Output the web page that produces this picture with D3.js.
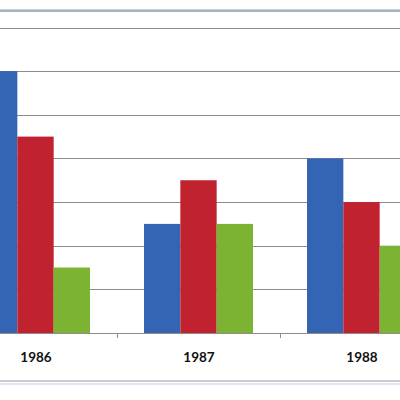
<!DOCTYPE html>
<html>
<head>
<meta charset="utf-8">
<script src="https://cdn.jsdelivr.net/npm/d3@7"></script>
<style>
  body { margin: 0; background: #fff; }
  svg { display: block; }
</style>
</head>
<body>
<script>
// chart data
var years = ["1986", "1987", "1988"];
var series = ["A", "B", "C"];
var valuesA = [60, 25, 40];
var valuesB = [45, 35, 30];
var valuesC = [15, 25, 20];
var gridTicks = [10, 20, 30, 40, 50, 60, 70];

var colors = ["#3465b5", "#c0232f", "#7db333"];
var allValues = [valuesA, valuesB, valuesC];

var width = 400;
var height = 400;

var svg = d3.select("body")
  .append("svg")
  .attr("width", width)
  .attr("height", height);

// frame lines (top and bottom of the chart box)
svg.append("line").attr("x1", 0).attr("x2", width).attr("y1", 9.5).attr("y2", 9.5)
  .attr("stroke", "#bcd3e8").attr("stroke-width", 1);
svg.append("line").attr("x1", 0).attr("x2", width).attr("y1", 11).attr("y2", 11)
  .attr("stroke", "#8f9aa3").attr("stroke-width", 1.5);
svg.append("line").attr("x1", 0).attr("x2", width).attr("y1", 381).attr("y2", 381)
  .attr("stroke", "#9a9a9a").attr("stroke-width", 1);
svg.append("line").attr("x1", 0).attr("x2", width).attr("y1", 384).attr("y2", 384)
  .attr("stroke", "#b9d2ea").attr("stroke-width", 1);

var x = d3.scaleBand()
  .domain(years)
  .range([-46, 443])
  .padding(0);

var xSub = d3.scaleBand()
  .domain(series)
  .range([27, 136])
  .padding(0);

var y = d3.scaleLinear()
  .domain([0, 70])
  .range([333, 27.5]);

// gridlines
svg.append("g")
  .selectAll("line")
  .data(gridTicks)
  .enter()
  .append("line")
  .attr("x1", 0)
  .attr("x2", width)
  .attr("y1", function(d) { return Math.round(y(d)) + 0.5; })
  .attr("y2", function(d) { return Math.round(y(d)) + 0.5; })
  .attr("stroke", "#8c8c8c")
  .attr("stroke-width", 1);

// bars
var groups = svg.append("g")
  .selectAll("g")
  .data(years)
  .enter()
  .append("g")
  .attr("transform", function(d) { return "translate(" + x(d) + ",0)"; });

groups.selectAll("rect")
  .data(function(d, i) {
    return series.map(function(s, j) { return { s: s, v: allValues[j][i], c: colors[j] }; });
  })
  .enter()
  .append("rect")
  .attr("x", function(d) { return xSub(d.s); })
  .attr("width", xSub.bandwidth())
  .attr("y", function(d) { return y(d.v); })
  .attr("height", function(d) { return y(0) - y(d.v); })
  .attr("fill", function(d) { return d.c; });

// x axis baseline
svg.append("line")
  .attr("x1", 0).attr("x2", width)
  .attr("y1", Math.round(y(0)) + 0.5).attr("y2", Math.round(y(0)) + 0.5)
  .attr("stroke", "#8c8c8c");

// tick marks between categories
svg.append("g")
  .selectAll("line")
  .data(years.slice(1))
  .enter()
  .append("line")
  .attr("x1", function(d) { return Math.round(x(d)) + 0.5; })
  .attr("x2", function(d) { return Math.round(x(d)) + 0.5; })
  .attr("y1", y(0))
  .attr("y2", y(0) + 5)
  .attr("stroke", "#8c8c8c");

// category labels
svg.append("g")
  .selectAll("text")
  .data(years)
  .enter()
  .append("text")
  .attr("x", function(d) { return x(d) + x.bandwidth() / 2 + 0.5; })
  .attr("y", 361.5)
  .attr("text-anchor", "middle")
  .attr("font-family", "Lato, 'Liberation Sans', sans-serif")
  .attr("font-weight", "bold")
  .attr("font-size", "13.5px")
  .attr("fill", "#111")
  .text(function(d) { return d; });
</script>
</body>
</html>
